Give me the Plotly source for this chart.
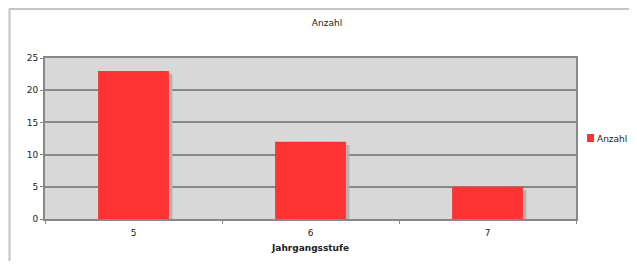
import plotly.graph_objects as go

categories = ["5", "6", "7"]
anzahl = [23, 12, 5]
series_name = "Anzahl"
x_title = "Jahrgangsstufe"
chart_title = "Anzahl"

# The page body has an 8px default margin; keep the figure inside the window
W, H = 621, 253
L, T, PW, PH = 37, 50, 531, 161
R = W - L - PW
B = H - T - PH


def px(fx):
    return (fx - L) / PW


def py(fy):
    return (T + PH - fy) / PH


shadow_drop = 0.5
fig = go.Figure()
fig.add_trace(go.Bar(
    x=categories, y=[v - shadow_drop for v in anzahl],
    width=0.4, offset=-0.18, marker=dict(color="#b3b3b3", line=dict(width=0)),
    showlegend=False, hoverinfo="skip"))
fig.add_trace(go.Bar(
    x=categories, y=anzahl, name=series_name, showlegend=False,
    width=0.4, offset=-0.2, marker=dict(color="#ff3333", line=dict(width=0))))

fig.update_layout(
    width=W, height=H,
    margin=dict(l=L, r=R, t=T, b=B, autoexpand=False),
    barmode="overlay",
    paper_bgcolor="white", plot_bgcolor="#d8d8d8",
    font=dict(family="DejaVu Sans", size=9, color="#222"),
    title=dict(text=chart_title, x=319 / W, xanchor="center", y=1 - 15 / H, yanchor="middle",
               xref="container", yref="container", font=dict(size=9)),
    showlegend=False,
    xaxis=dict(title=dict(text="<b>" + x_title + "</b>", standoff=8, font=dict(size=9)),
               showgrid=False, ticks="outside", tickson="boundaries", ticklen=3,
               ticklabelstandoff=4, automargin=False,
               tickcolor="#888", showline=True, linecolor="#888", linewidth=2, mirror=True),
    yaxis=dict(range=[0, 25], dtick=5, showgrid=True, gridcolor="#888", gridwidth=1.5,
               ticks="outside", ticklen=3, tickcolor="#888", showline=True, linecolor="#888",
               linewidth=2, mirror=True, zeroline=False, automargin=False),
    shapes=[
        dict(type="rect", xref="paper", yref="paper", x0=px(1.5), x1=1.5,
             y0=-1, y1=py(1), line=dict(color="#c4c4c4", width=2), layer="below"),
        dict(type="rect", xref="paper", yref="paper", x0=px(579), x1=px(586),
             y0=py(134), y1=py(126), fillcolor="#ff3333", line=dict(width=0)),
    ],
    annotations=[
        dict(text=series_name, xref="paper", yref="paper", x=px(621), y=py(131),
             xanchor="right", yanchor="middle", showarrow=False, font=dict(size=9)),
    ],
)
fig.write_html("out.html")
